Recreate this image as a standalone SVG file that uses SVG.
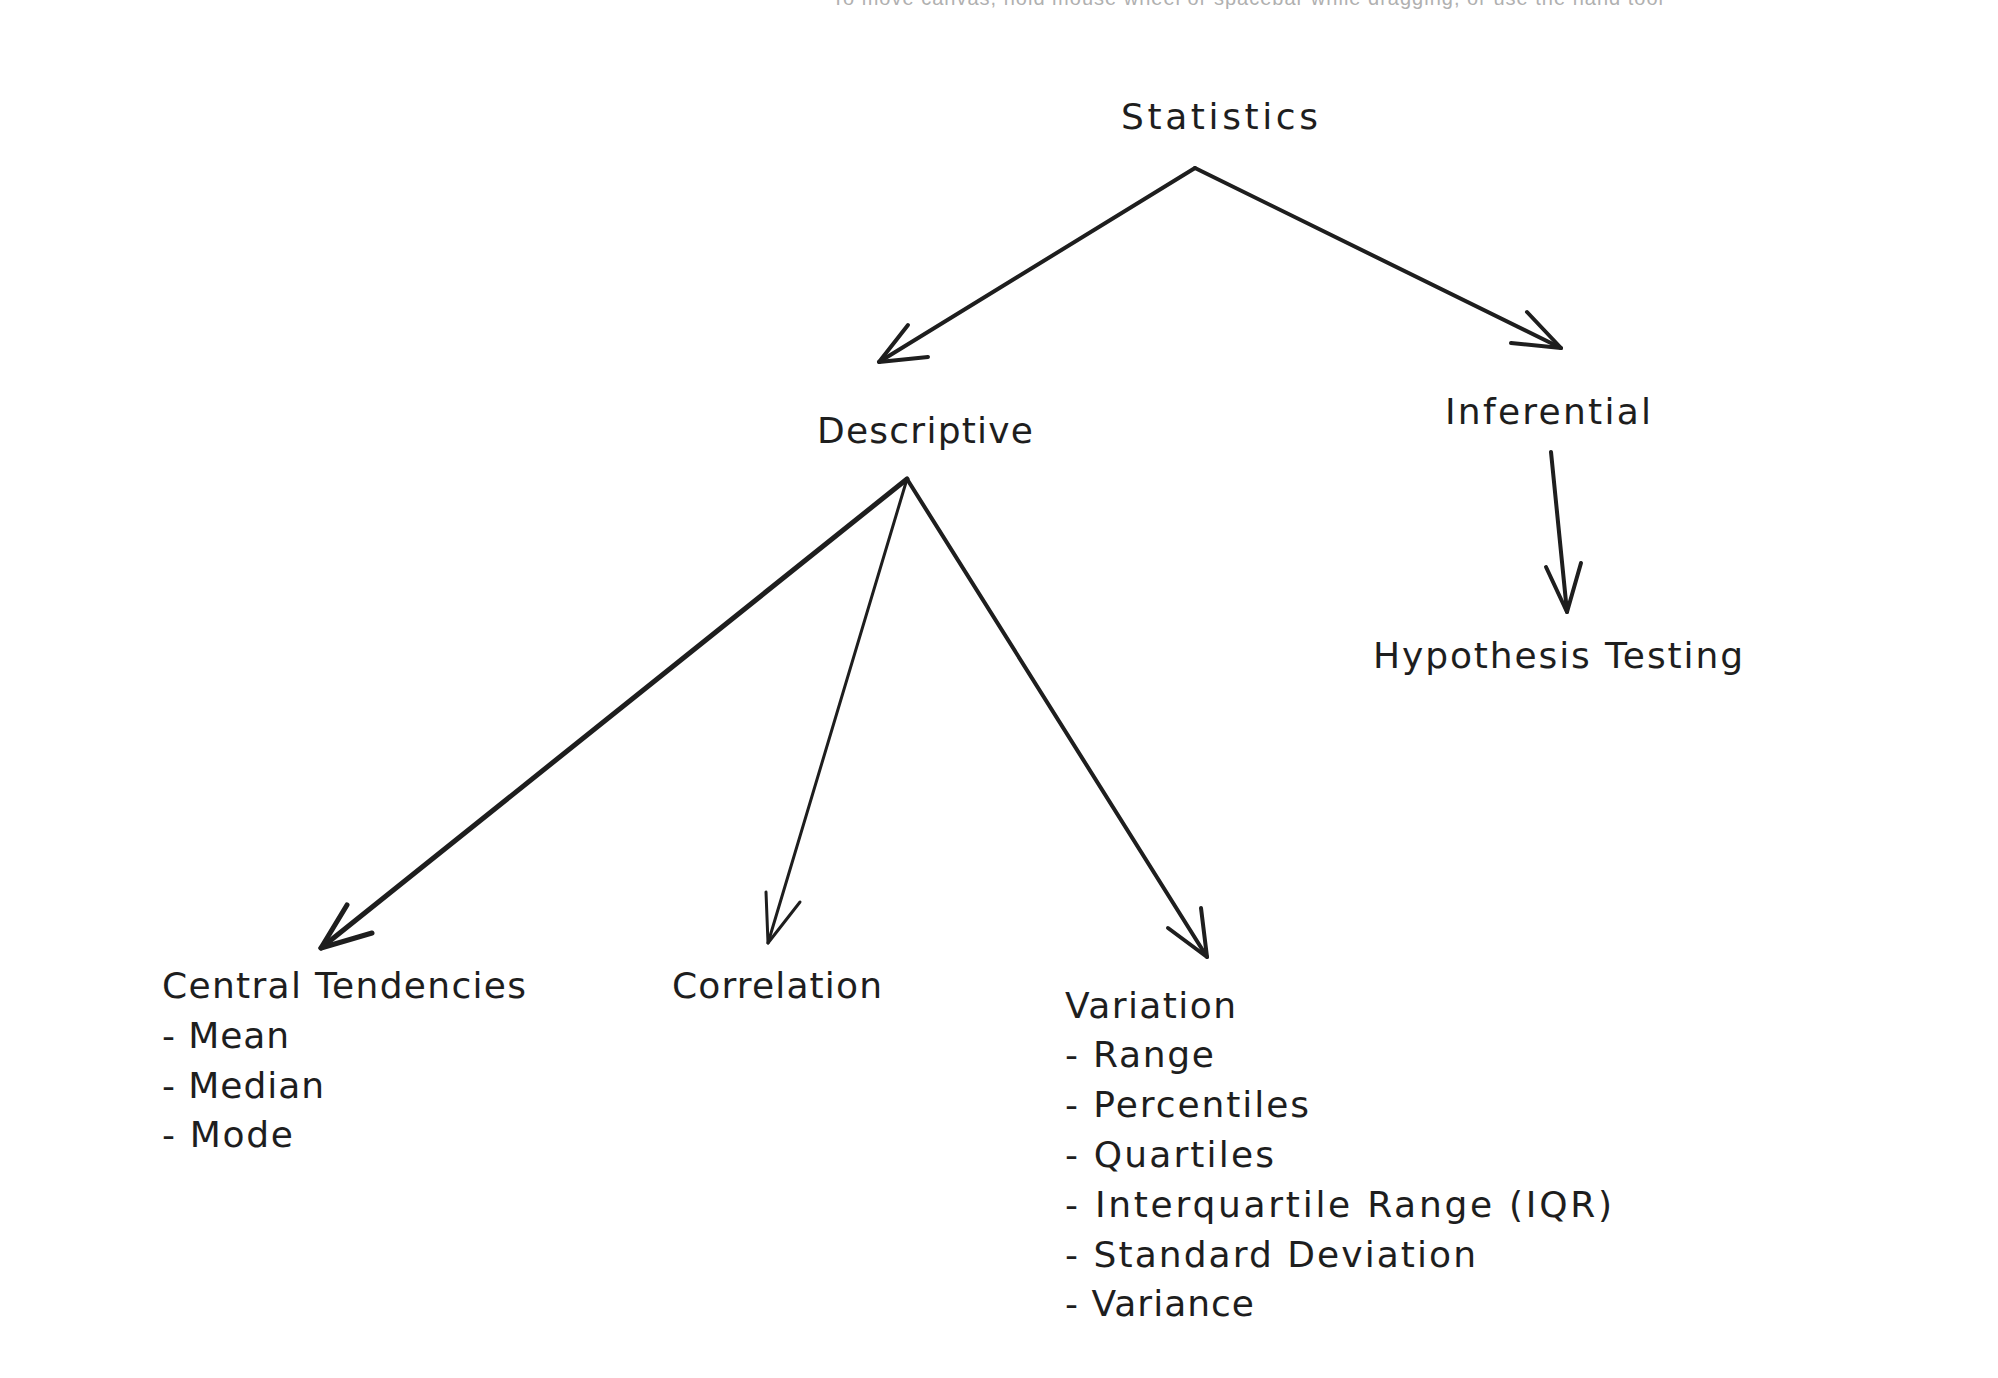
<svg xmlns="http://www.w3.org/2000/svg" width="1998" height="1378" viewBox="0 0 1998 1378">
<style>
.t{font-family:"DejaVu Sans","Liberation Sans",sans-serif;font-size:36px;fill:#1e1e1e}
.hint{font-family:"Liberation Sans",Arial,sans-serif;font-size:20px;fill:#b0b0b0}
.c{stroke:#1e1e1e;fill:none;stroke-linecap:round;stroke-linejoin:round}
</style>
<rect width="1998" height="1378" fill="#ffffff"/>
<text class="hint" x="832" y="5" textLength="831" lengthAdjust="spacing">To move canvas, hold mouse wheel or spacebar while dragging, or use the hand tool</text>
<g id="connectors">
  <g id="stat-desc" class="c" stroke-width="4"><path d="M1195,168 L879,362"/><path d="M908,325 L879,362 L928,357"/></g>
  <g id="stat-inf" class="c" stroke-width="4"><path d="M1195,168 L1561,348"/><path d="M1527,312 L1561,348 L1511,343"/></g>
  <g id="inf-hyp" class="c" stroke-width="4"><path d="M1551,452 L1567,612"/><path d="M1546,567 L1567,612 L1581,563"/></g>
  <g id="desc-ct" class="c" stroke-width="5"><path d="M907,479 L321,948"/><path d="M347,905 L321,948 L372,933"/></g>
  <g id="desc-corr" class="c" stroke-width="3"><path d="M907,479 L768,943"/><path d="M766,892 L768,943 L800,902"/></g>
  <g id="desc-var" class="c" stroke-width="4"><path d="M907,479 L1207,957"/><path d="M1201,908 L1207,957 L1168,928"/></g>
</g>
<g id="statistics"><text class="t" x="1121" y="129" textLength="197" lengthAdjust="spacing">Statistics</text></g>
<g id="descriptive"><text class="t" x="817" y="443" textLength="216" lengthAdjust="spacing">Descriptive</text></g>
<g id="inferential"><text class="t" x="1445" y="424" textLength="206" lengthAdjust="spacing">Inferential</text></g>
<g id="hypothesis-testing"><text class="t" x="1373" y="668" textLength="370" lengthAdjust="spacing">Hypothesis Testing</text></g>
<g id="central-tendencies">
  <text class="t" x="162" y="998" textLength="364" lengthAdjust="spacing">Central Tendencies</text>
  <text class="t" x="162" y="1048" textLength="127" lengthAdjust="spacing">- Mean</text>
  <text class="t" x="162" y="1098" textLength="162" lengthAdjust="spacing">- Median</text>
  <text class="t" x="162" y="1147" textLength="131" lengthAdjust="spacing">- Mode</text>
</g>
<g id="correlation"><text class="t" x="672" y="998" textLength="210" lengthAdjust="spacing">Correlation</text></g>
<g id="variation">
  <text class="t" x="1065" y="1018" textLength="171" lengthAdjust="spacing">Variation</text>
  <text class="t" x="1065" y="1067" textLength="149" lengthAdjust="spacing">- Range</text>
  <text class="t" x="1065" y="1117" textLength="244" lengthAdjust="spacing">- Percentiles</text>
  <text class="t" x="1065" y="1167" textLength="209" lengthAdjust="spacing">- Quartiles</text>
  <text class="t" x="1065" y="1217" textLength="547" lengthAdjust="spacing">- Interquartile Range (IQR)</text>
  <text class="t" x="1065" y="1267" textLength="411" lengthAdjust="spacing">- Standard Deviation</text>
  <text class="t" x="1065" y="1316" textLength="189" lengthAdjust="spacing">- Variance</text>
</g>
</svg>
